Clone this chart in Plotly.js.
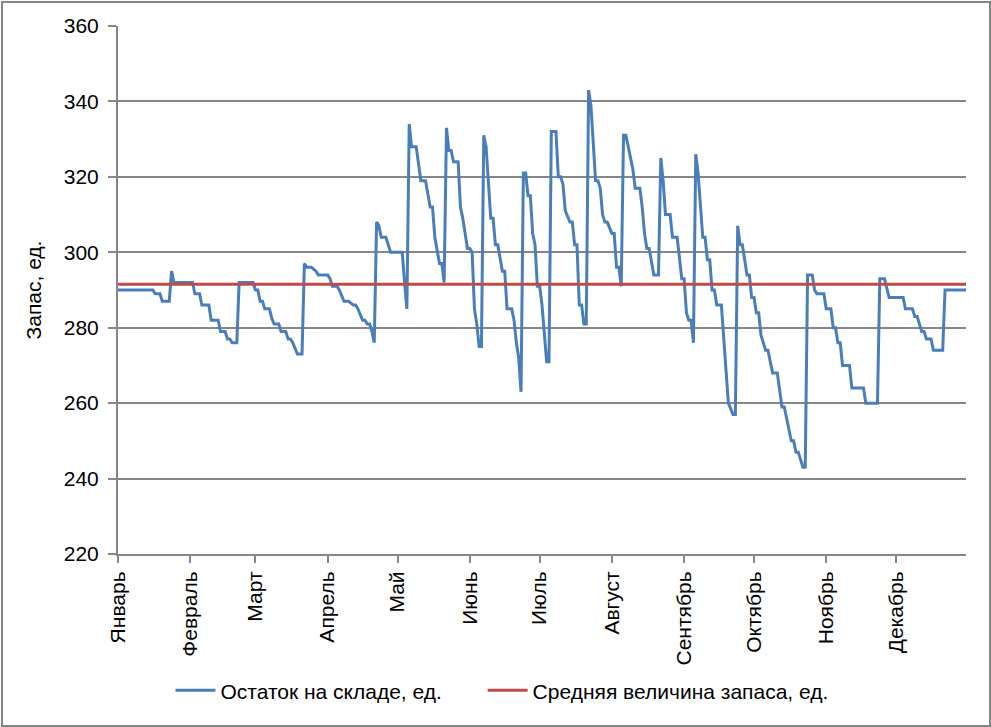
<!DOCTYPE html>
<html>
<head>
<meta charset="utf-8">
<script src="https://cdn.plot.ly/plotly-3.0.1.min.js"></script>
<style>
  body { margin: 0; background: #fff; }
  #chart { width: 991px; height: 727px; }
  #frame { position: absolute; left: 1px; top: 1px; width: 986px; height: 722px; border: 2px solid #868686; pointer-events: none; }
</style>
</head>
<body>
<div id="chart"></div>
<div id="frame"></div>
<script>
// дни года (0 = 1 января) и остаток на складе в точках излома
const dni = [0, 15, 16, 18, 19, 22, 23, 24, 32, 33, 35, 36, 39, 40, 43, 44, 46, 47, 48, 49, 51, 52,
  58, 59, 60, 61, 62, 63, 65, 66, 67, 69, 70, 72, 73, 74, 75, 77, 79, 80, 81, 83, 85, 86, 90,
  91, 92, 94, 95, 97, 99, 101, 102, 103, 105, 106, 107, 108, 109, 110, 111, 112, 113, 115,
  117, 122, 123, 124, 125, 126, 128, 130, 132, 134, 135, 136, 138, 139, 140, 141, 142, 143,
  144, 146, 147, 148, 150, 151, 152, 153, 154, 155, 156, 157, 158, 160, 161, 162, 163, 165,
  166, 167, 169, 170, 171, 172, 173, 174, 175, 176, 177, 178, 179, 180, 181, 182, 184, 185,
  186, 188, 189, 190, 191, 192, 194, 195, 196, 197, 198, 199, 200, 201, 202, 203, 205, 206,
  207, 208, 209, 210, 212, 213, 214, 215, 216, 217, 218, 219, 221, 222, 224, 225, 226, 227,
  228, 230, 232, 233, 234, 235, 237, 238, 240, 242, 243, 244, 245, 246, 247, 248, 249, 251,
  252, 253, 254, 255, 256, 257, 259, 262, 264, 265, 266, 267, 268, 270, 271, 272, 273, 274,
  275, 276, 278, 279, 281, 283, 285, 286, 287, 289, 290, 291, 292, 294, 295, 296, 298, 299,
  300, 303, 304, 306, 307, 308, 309, 310, 311, 314, 315, 320, 321, 326, 327, 329, 331, 337,
  338, 341, 342, 343, 345, 346, 347, 349, 350, 354, 355, 364];
const ostatok = [290, 290, 289, 289, 287, 287, 295, 292, 292, 289, 289, 286, 286, 282, 282, 279, 279, 277, 277, 276, 276, 292,
  292, 290, 290, 287, 287, 285, 285, 282.5, 281, 281, 279, 279, 277, 277, 276, 273, 273, 297, 296, 296, 295, 294, 294,
  293, 291, 291, 290, 287, 287, 286, 286, 285, 282, 282, 281, 281, 279, 276, 308, 307, 304, 304,
  300, 300, 292, 285, 334, 328, 328, 319, 319, 312, 312, 304, 297, 297, 292, 333, 327, 327,
  324, 324, 312, 309, 301, 301, 300, 285, 281, 275, 275, 331, 328, 309, 309, 302, 302, 295,
  295, 285, 285, 282, 276, 272, 263, 321, 321, 315, 315, 305, 302, 291, 291, 286, 271, 271,
  332, 332, 320, 320, 318, 311, 308, 308, 302, 302, 286, 286, 281, 281, 343, 339, 319, 319,
  317, 310, 308, 308, 305, 305, 296, 296, 291, 331, 331, 328, 322, 317, 317, 312, 305, 301,
  301, 294, 294, 325, 319, 310, 310, 304, 304, 293, 293, 284, 282, 282, 276, 326, 321, 304,
  304, 298, 298, 290, 290, 286, 286, 260, 257, 257, 307, 302, 302, 294, 294, 288, 288, 284,
  284, 278, 274, 274, 268, 268, 259, 259, 256, 250, 250, 247, 247, 243, 243, 294, 294, 290,
  289, 289, 285, 285, 280, 280, 276, 276, 270, 270, 264, 264, 260, 260, 293, 293, 288, 288,
  285, 285, 283, 283, 279, 279, 277, 277, 274, 274, 290, 290];

const srednyaya = 291.5;
const srednyayaX = [0, 364];

const mesyacy = ['Январь', 'Февраль', 'Март', 'Апрель', 'Май', 'Июнь', 'Июль',
  'Август', 'Сентябрь', 'Октябрь', 'Ноябрь', 'Декабрь'];
const nachaloMesyaca = [0, 31, 59, 90, 120, 151, 181, 212, 243, 273, 304, 334];

const seryi = '#868686';
const shrift = { family: 'Liberation Sans, Arial, sans-serif', size: 21, color: '#000' };

const traces = [
  {
    x: dni, y: ostatok, type: 'scatter', mode: 'lines',
    name: 'Остаток на складе, ед.',
    line: { color: '#4a7ebb', width: 3 }, legend: 'legend'
  },
  {
    x: srednyayaX, y: [srednyaya, srednyaya], type: 'scatter', mode: 'lines',
    name: 'Средняя величина запаса, ед.',
    line: { color: '#be4b48', width: 3 }, legend: 'legend2'
  }
];

// две легенды рядом, как в Excel
const legendaObshee = {
  orientation: 'h', xref: 'container', yref: 'container',
  xanchor: 'left', y: 0.05, yanchor: 'middle',
  font: shrift, itemwidth: 40
};

Plotly.newPlot('chart', traces, {
  width: 991, height: 727,
  margin: { t: 26, b: 173, l: 118, r: 25 },
  paper_bgcolor: '#fff', plot_bgcolor: '#fff',
  font: shrift,
  showlegend: true,
  legend: Object.assign({ x: 0.172 }, legendaObshee),
  legend2: Object.assign({ x: 0.487 }, legendaObshee),
  xaxis: {
    range: [0, 364], tickvals: nachaloMesyaca, ticktext: mesyacy,
    tickangle: -90, ticks: 'outside', ticklen: 7, tickwidth: 2, tickcolor: seryi,
    showline: true, linecolor: seryi, linewidth: 2,
    showgrid: false, zeroline: false, tickfont: shrift
  },
  yaxis: {
    range: [220, 360], dtick: 20, tick0: 220,
    ticks: 'outside', ticklen: 8, tickwidth: 2, tickcolor: seryi,
    showline: true, linecolor: seryi, linewidth: 2,
    showgrid: true, gridcolor: seryi, gridwidth: 2, zeroline: false,
    tickfont: shrift, ticklabelstandoff: 5,
    title: { text: 'Запас, ед.', font: shrift, standoff: 16 }
  }
}, { displayModeBar: false });
</script>
</body>
</html>
